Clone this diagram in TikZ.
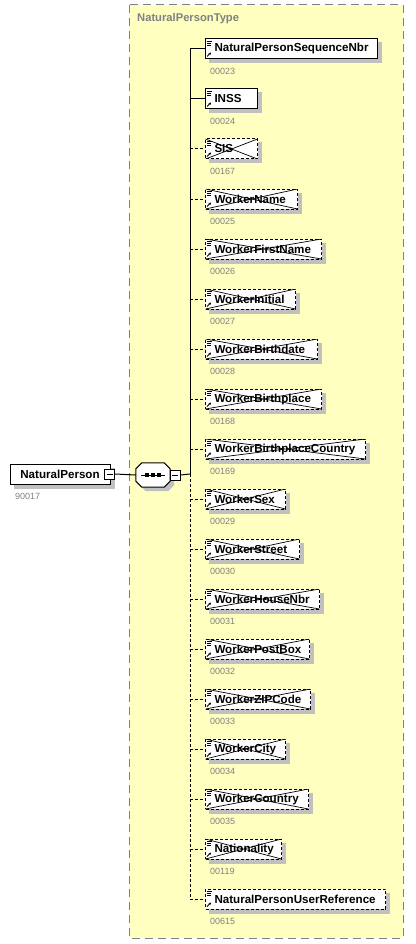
\documentclass[tikz,border=0pt]{standalone}
\usepackage{fontspec}
\setmainfont{Liberation Sans}
\usetikzlibrary{arrows.meta,backgrounds}

\definecolor{typgelb}{RGB}{255,255,192}
\definecolor{schatten}{RGB}{192,192,192}
\definecolor{rahmengrau}{RGB}{128,128,128}

\tikzset{
	elem/.style={draw, fill=white, line width=1pt, minimum height=20pt, inner xsep=0pt, inner ysep=0pt,
		anchor=west, align=left, font=\fontsize{11.6}{13}\selectfont\bfseries},
	pflicht/.style={},
	opt/.style={dash pattern=on 3pt off 2pt},
	kreuzopt/.style={opt, path picture={\draw[solid, line width=0.7pt]
			(path picture bounding box.north west) -- (path picture bounding box.south east)
			(path picture bounding box.south west) -- (path picture bounding box.north east);}},
	nummer/.style={anchor=west, inner sep=0pt, text=rahmengrau, font=\fontsize{9}{10}\selectfont},
	minus/.style={draw, fill=white, line width=1pt, minimum size=10pt, inner sep=0pt,
		path picture={\draw[line width=1pt] ([xshift=2pt]path picture bounding box.west) -- ([xshift=-2pt]path picture bounding box.east);}},
	schattig/.style={fill=schatten, transform canvas={shift={(4pt,-4pt)}}}
}

\begin{document}
\begin{tikzpicture}[x=1pt, y=-1pt]
	\useasboundingbox (0,0) rectangle (415,944);
	
	%Typ
	\begin{scope}[on background layer]
		\draw[rahmengrau, fill=typgelb, line width=1pt, dash pattern=on 8pt off 5pt] (129,5) rectangle (403,938);
	\end{scope}
	\node[anchor=west, inner sep=0pt, text=rahmengrau, font=\fontsize{11.2}{13}\selectfont\bfseries] (typ) at (137,19) {NaturalPersonType};
	
	%Wurzel
	\node[elem, anchor=center, minimum width=100pt] (np) at (60,474) {NaturalPerson};
	\node[minus] (npm) at ([xshift=-1pt]np.east) {};
	\node[nummer] (npn) at (15,496) {90017};
	
	%Sequenz
	\node[minimum width=34pt, minimum height=24pt, inner sep=0pt] (seq) at (153,475) {};
	\begin{scope}[on background layer]
		\fill[schattig] ([xshift=6pt]seq.north west) -- ([xshift=-6pt]seq.north east) -- ([yshift=-6pt]seq.north east)
			-- ([yshift=6pt]seq.south east) -- ([xshift=-6pt]seq.south east) -- ([xshift=6pt]seq.south west)
			-- ([yshift=6pt]seq.south west) -- ([yshift=-6pt]seq.north west) -- cycle;
	\end{scope}
	\filldraw[fill=white, line width=1pt] ([xshift=6pt]seq.north west) -- ([xshift=-6pt]seq.north east) -- ([yshift=-6pt]seq.north east)
		-- ([yshift=6pt]seq.south east) -- ([xshift=-6pt]seq.south east) -- ([xshift=6pt]seq.south west)
		-- ([yshift=6pt]seq.south west) -- ([yshift=-6pt]seq.north west) -- cycle;
	\draw[line width=1pt] (seq.center) +(-12,0) -- +(12,0);
	\foreach \d in {-6,0,6} {
		\fill ([xshift=\d pt]seq.center) +(-1.6,-1.6) rectangle +(1.6,1.6);
	}
	\node[minus] (seqm) at ([xshift=5pt]seq.east) {};
	\coordinate (v) at (190,474);
	\draw[line width=1pt] (npm.east) -- (seq.west);
	\draw[line width=1pt] (seqm.east) -- (v);
	
	%Elemente
	\foreach \i/\name/\num/\w/\art/\linie in {
		1/NaturalPersonSequenceNbr/00023/172/pflicht/solid,
		2/INSS/00024/52/pflicht/solid,
		3/SIS/00167/52/kreuzopt/opt,
		4/WorkerName/00025/92/kreuzopt/opt,
		5/WorkerFirstName/00026/116/kreuzopt/opt,
		6/WorkerInitial/00027/90/kreuzopt/opt,
		7/WorkerBirthdate/00028/112/kreuzopt/opt,
		8/WorkerBirthplace/00168/116/kreuzopt/opt,
		9/WorkerBirthplaceCountry/00169/160/kreuzopt/opt,
		10/WorkerSex/00029/80/kreuzopt/opt,
		11/WorkerStreet/00030/94/kreuzopt/opt,
		12/WorkerHouseNbr/00031/114/kreuzopt/opt,
		13/WorkerPostBox/00032/104/kreuzopt/opt,
		14/WorkerZIPCode/00033/105/kreuzopt/opt,
		15/WorkerCity/00034/80/kreuzopt/opt,
		16/WorkerCountry/00035/103/kreuzopt/opt,
		17/Nationality/00119/76/kreuzopt/opt,
		18/NaturalPersonUserReference/00615/180/opt/opt} {
		\pgfmathsetmacro\y{49+50*(\i-1)}
		\node[elem, \art, text width=\w pt] (c\i) at (205,\y) {\hspace*{9pt}\name};
		\begin{scope}[on background layer]
			\fill[schattig] (c\i.north west) rectangle (c\i.south east);
		\end{scope}
		\node[nummer] (n\i) at (210,\y+22) {\num};
		\draw[line width=0.8pt] ([shift={(2,2.5)}]c\i.north west) -- ++(5,0) ++(-5,2) -- ++(4,0) ++(-4,2) -- ++(4,0);
		\draw[line width=0.8pt, -{Stealth[length=2.5pt, width=2.5pt]}] ([shift={(2,18)}]c\i.north west) -- ++(4,-4);
		\draw[line width=1pt, \linie] (c\i.west -| v) -- (c\i.west);
	}
	\begin{scope}[on background layer]
		\fill[schattig] (np.north west) rectangle (np.south east);
	\end{scope}
	\draw[line width=1pt] (c1.west -| v) -- (v);
	\draw[line width=1pt, opt] (v) -- (c18.west -| v);
\end{tikzpicture}
\end{document}
